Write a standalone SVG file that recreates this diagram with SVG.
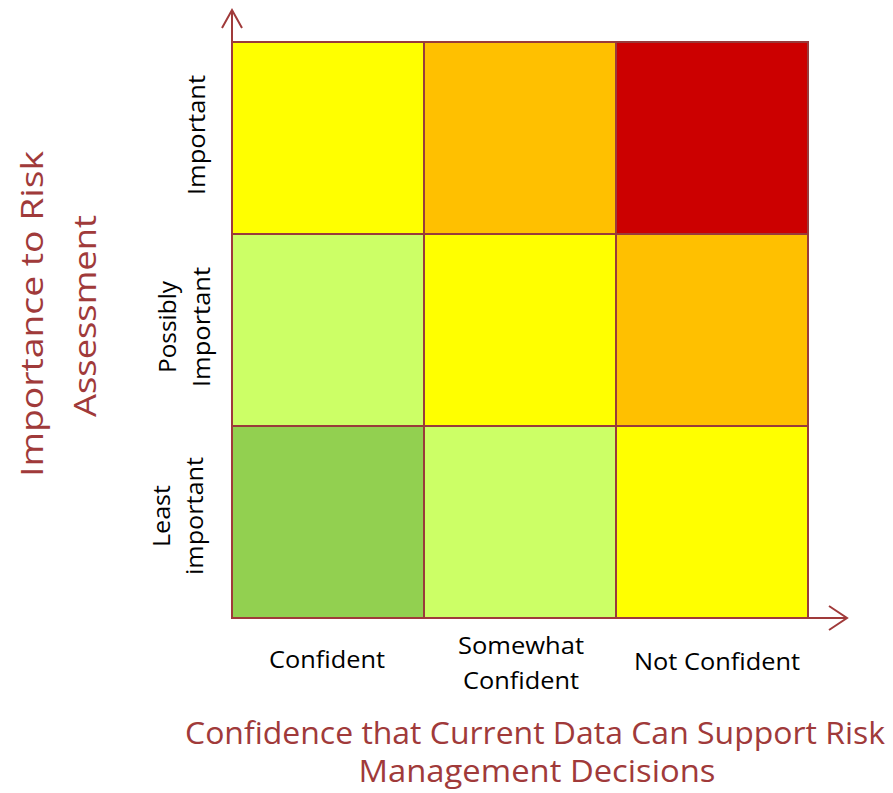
<svg xmlns="http://www.w3.org/2000/svg" width="893" height="793" viewBox="0 0 893 793">
<style>
.cell{stroke:#993B3B;stroke-width:2}
.lbl{font-family:"Open Sans","Liberation Sans",sans-serif;font-size:24px;fill:#000;text-anchor:middle}
.ttl{font-family:"Open Sans","Liberation Sans",sans-serif;font-size:31px;fill:#A03A3A;text-anchor:middle}
.axis{stroke:#A03A3A;stroke-width:2;fill:none}
</style>
<rect width="893" height="793" fill="#fff"/>
<g id="grid">
<rect id="c-imp-conf" class="cell" x="232" y="42" width="192" height="192" fill="#FFFF00"/>
<rect id="c-imp-some" class="cell" x="424" y="42" width="192" height="192" fill="#FFC000"/>
<rect id="c-imp-not" class="cell" x="616" y="42" width="192" height="192" fill="#CC0000"/>
<rect id="c-pos-conf" class="cell" x="232" y="234" width="192" height="192" fill="#CCFF66"/>
<rect id="c-pos-some" class="cell" x="424" y="234" width="192" height="192" fill="#FFFF00"/>
<rect id="c-pos-not" class="cell" x="616" y="234" width="192" height="192" fill="#FFC000"/>
<rect id="c-least-conf" class="cell" x="232" y="426" width="192" height="192" fill="#92D050"/>
<rect id="c-least-some" class="cell" x="424" y="426" width="192" height="192" fill="#CCFF66"/>
<rect id="c-least-not" class="cell" x="616" y="426" width="192" height="192" fill="#FFFF00"/>
</g>
<g id="connectors">
<path class="axis" d="M232,618 V10 M222,28 L232,10 L242,28"/>
<path class="axis" d="M232,618 H847 M829,606 L847,618 L829,630"/>
</g>
<g id="row-labels">
<text class="lbl" transform="translate(205,135) rotate(-90)" textLength="120" lengthAdjust="spacingAndGlyphs">Important</text>
<text class="lbl" transform="translate(176,327) rotate(-90)" textLength="92" lengthAdjust="spacingAndGlyphs">Possibly</text>
<text class="lbl" transform="translate(210,327) rotate(-90)" textLength="120" lengthAdjust="spacingAndGlyphs">Important</text>
<text class="lbl" transform="translate(170,516) rotate(-90)" textLength="62" lengthAdjust="spacingAndGlyphs">Least</text>
<text class="lbl" transform="translate(203,516) rotate(-90)" textLength="118" lengthAdjust="spacingAndGlyphs">important</text>
</g>
<g id="col-labels">
<text class="lbl" x="327" y="668" textLength="116" lengthAdjust="spacingAndGlyphs">Confident</text>
<text class="lbl" x="521" y="654" textLength="126" lengthAdjust="spacingAndGlyphs">Somewhat</text>
<text class="lbl" x="521" y="689" textLength="116" lengthAdjust="spacingAndGlyphs">Confident</text>
<text class="lbl" x="717" y="670" textLength="166" lengthAdjust="spacingAndGlyphs">Not Confident</text>
</g>
<g id="titles">
<text class="ttl" transform="translate(43,314) rotate(-90)" font-size="38" textLength="326" lengthAdjust="spacingAndGlyphs">Importance to Risk</text>
<text class="ttl" transform="translate(96,316) rotate(-90)" font-size="38" textLength="202" lengthAdjust="spacingAndGlyphs">Assessment</text>
<text class="ttl" x="535" y="744" textLength="700" lengthAdjust="spacingAndGlyphs">Confidence that Current Data Can Support Risk</text>
<text class="ttl" x="537" y="782" textLength="357" lengthAdjust="spacingAndGlyphs">Management Decisions</text>
</g>
</svg>
